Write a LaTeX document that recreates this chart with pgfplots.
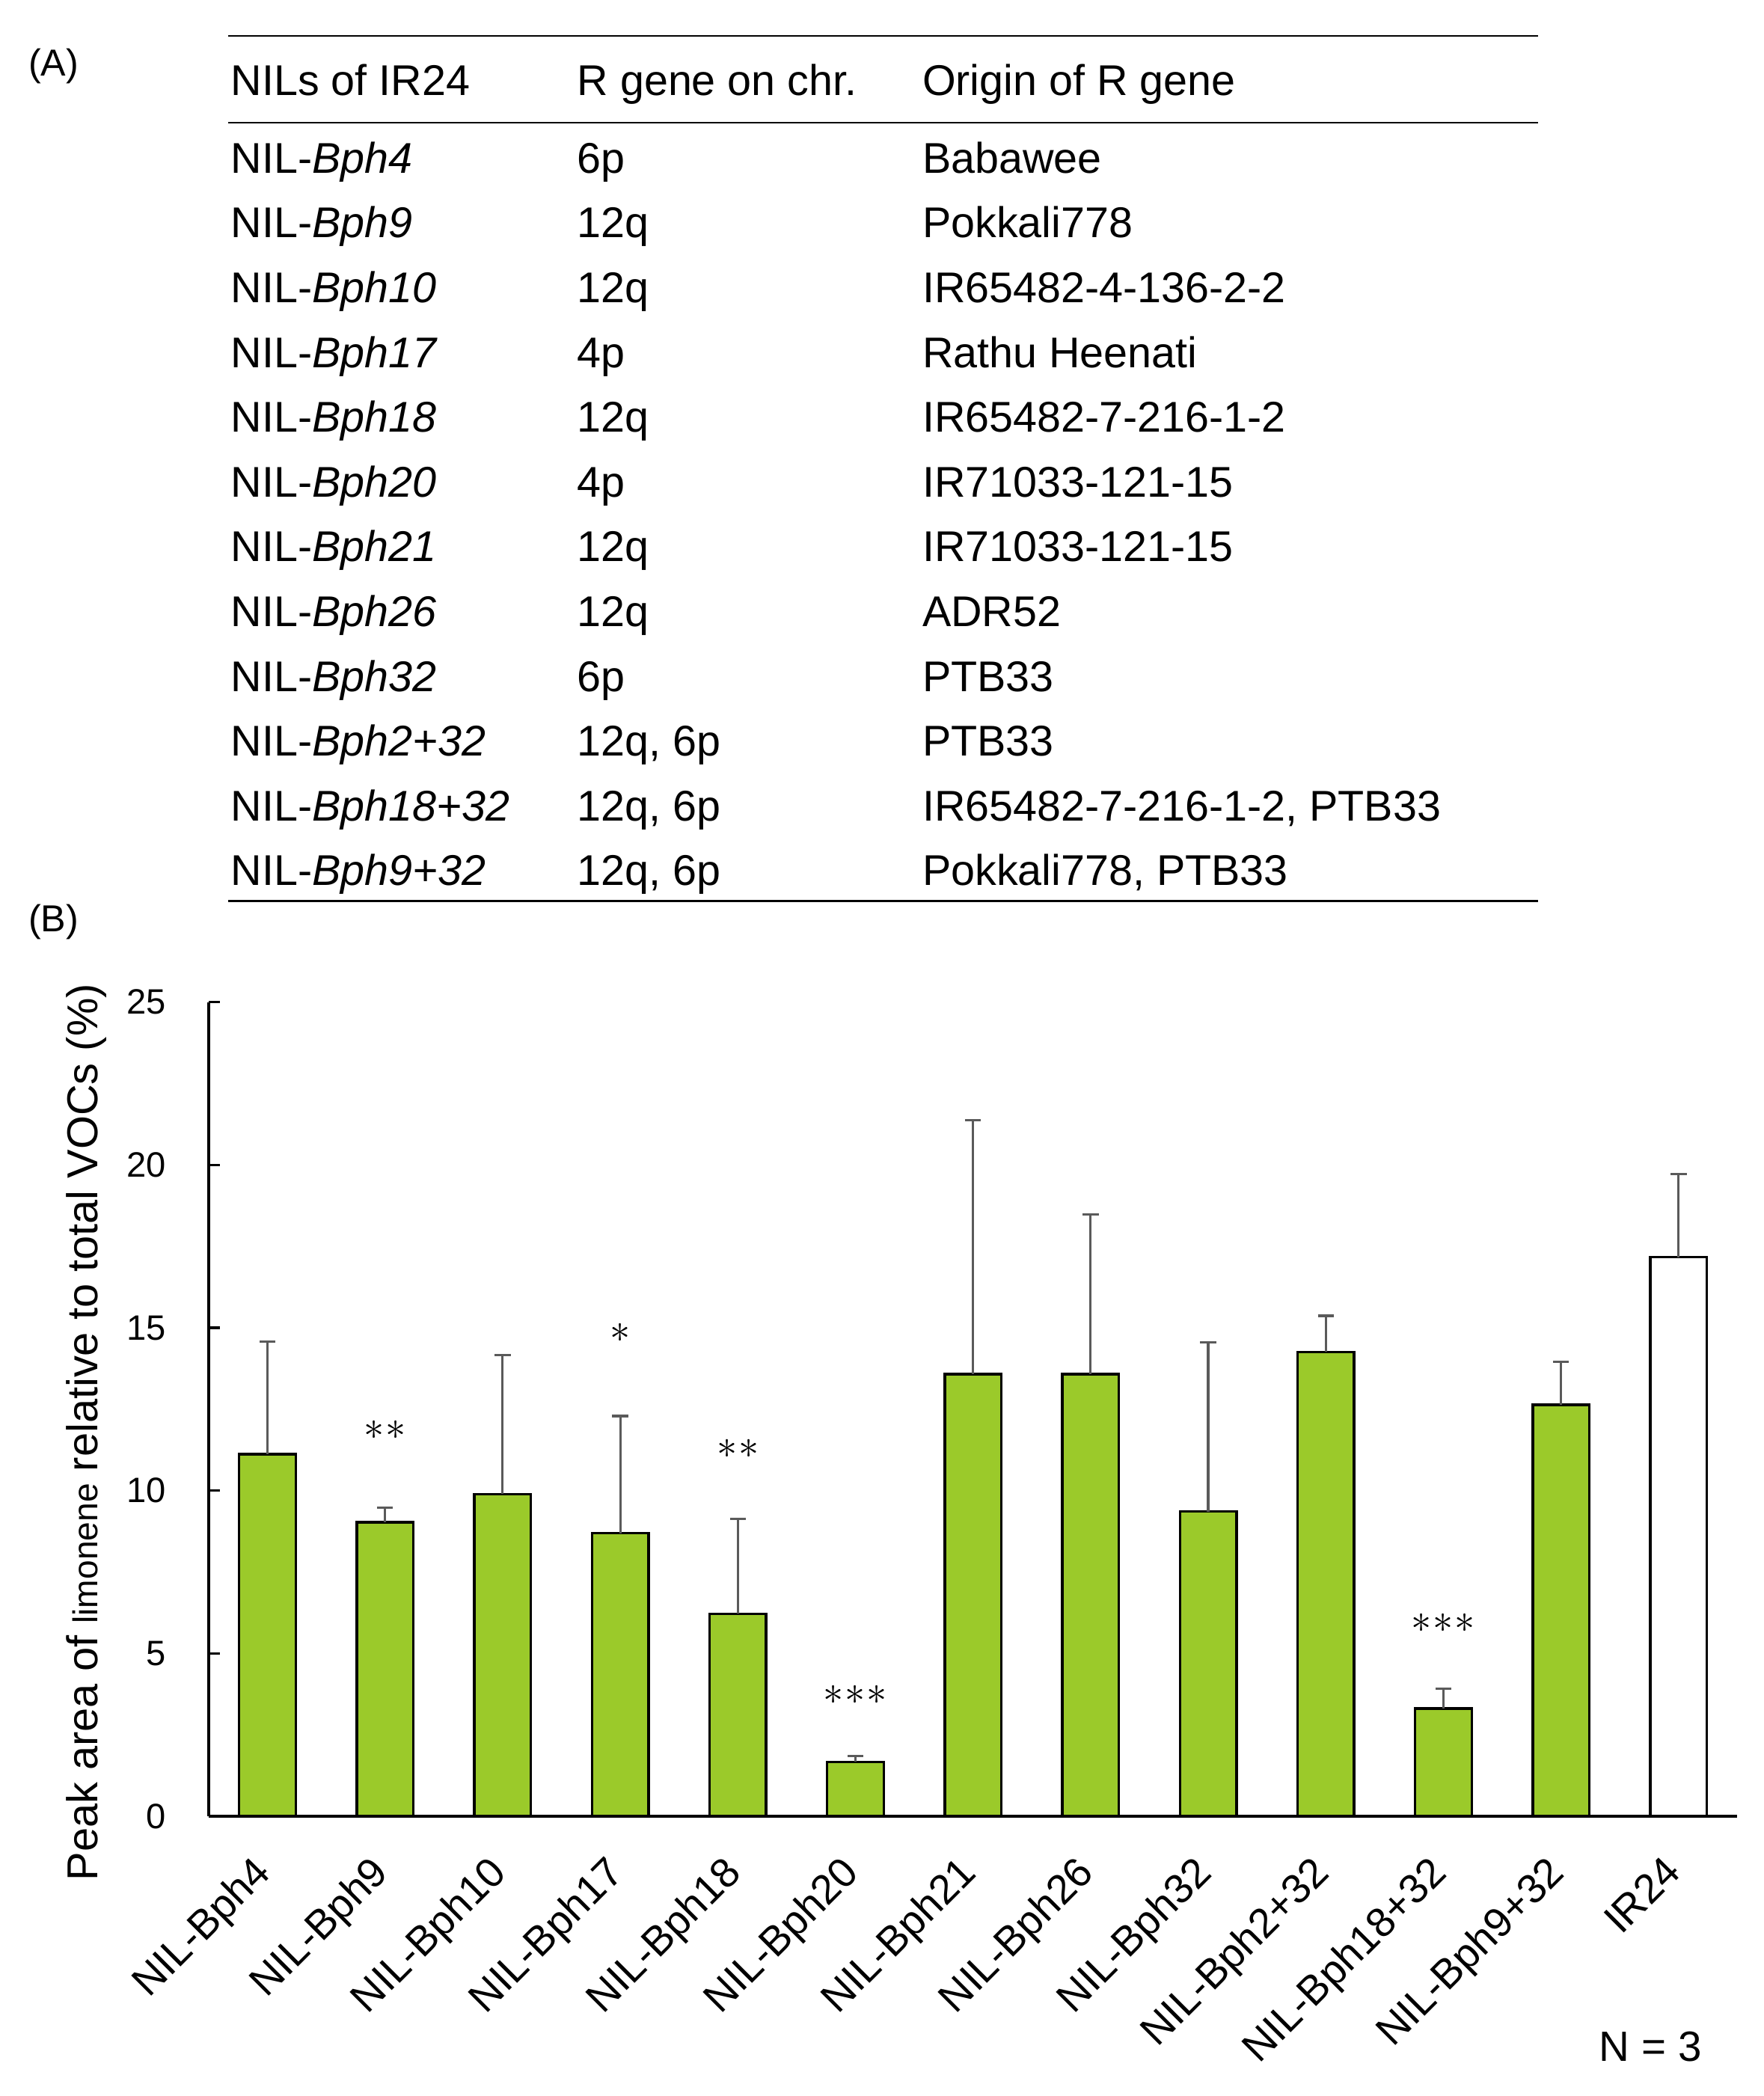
\documentclass[border=0pt]{standalone}
\usepackage{fontspec}
\setmainfont{Liberation Sans}
\usepackage{pgfplots}
\usepackage{pgfplotstable}
\pgfplotsset{compat=1.18}

\definecolor{bargreen}{RGB}{155,202,42}
\definecolor{errgray}{RGB}{90,90,90}

% mean and upper error (percent)
\pgfplotstableread{
x y err
0 11.12 3.46
1 9.03 0.44
2 9.89 4.28
3 8.69 3.60
4 6.22 2.91
5 1.67 0.18
6 13.58 7.79
7 13.58 4.91
8 9.36 5.20
9 14.26 1.11
10 3.31 0.60
11 12.64 1.32
}\nils
\pgfplotstableread{
x y err
12 17.17 2.56
}\control
\pgfplotstableread{
x y lab
1 11.85 2
3 14.85 1
4 11.28 2
5 3.72 3
10 5.94 3
}\stars

\newcommand{\stx}[1]{\ifcase#1\or${\ast}$\or${\ast}\mkern0.6mu{\ast}$\or${\ast}\mkern0.6mu{\ast}\mkern0.6mu{\ast}$\fi}

\begin{document}
\begin{tikzpicture}
\useasboundingbox (0,0) rectangle (263.8mm,-313.6mm);

\begin{scope}[x=0.2mm,y=-0.2mm]
  \node[anchor=base west,inner sep=0,font=\fontsize{16}{18}\selectfont] at (21,57) {(A)};
  \node[anchor=base west,inner sep=0,font=\fontsize{16}{18}\selectfont] at (21,697) {(B)};
  \draw[line width=0.8pt] (170.8,26.8) -- (1150.7,26.8);
  \draw[line width=0.8pt] (170.8,91.9) -- (1150.7,91.9);
  \draw[line width=0.8pt] (170.8,674) -- (1150.7,674);
  \begin{scope}[every node/.style={anchor=base west,inner sep=0,font=\fontsize{18.3}{20}\selectfont}]
    \node at (172.5,71.6) {NILs of IR24};
    \node at (431.5,71.6) {R gene on chr.};
    \node at (689.7,71.6) {Origin of R gene};
    \foreach \i/\a/\b/\c in {
      0/4/6p/Babawee,
      1/9/12q/Pokkali778,
      2/10/12q/IR65482-4-136-2-2,
      3/17/4p/Rathu Heenati,
      4/18/12q/IR65482-7-216-1-2,
      5/20/4p/IR71033-121-15,
      6/21/12q/IR71033-121-15,
      7/26/12q/ADR52,
      8/32/6p/PTB33,
      9/2+32/{12q, 6p}/PTB33,
      10/18+32/{12q, 6p}/{IR65482-7-216-1-2, PTB33},
      11/9+32/{12q, 6p}/{Pokkali778, PTB33}} {
      \node at (172.5,129.5+48.46*\i) {NIL-\textit{Bph\a}};
      \node at (431.5,129.5+48.46*\i) {\b};
      \node at (689.7,129.5+48.46*\i) {\c};
    }
  \end{scope}
  \node[rotate=90,anchor=base,inner sep=0,font=\fontsize{18.4}{20}\selectfont] at (72.8,1071.5)
    {Peak area of {\fontsize{14.7}{16}\selectfont limonene} relative to total VOCs (\%)};
  \node[anchor=base west,inner sep=0,font=\fontsize{18}{20}\selectfont] at (1196,1542) {N = 3};
\end{scope}

\begin{axis}[
    at={(31.22mm,-271.74mm)}, anchor=south west,
    scale only axis,
    width=228.7mm, height=121.8mm,
    xmin=-0.5, xmax=12.5, ymin=0, ymax=25,
    axis x line*=bottom, axis y line*=left,
    axis line style={line width=1pt},
    xtick={0,...,12},
    xticklabels={NIL-Bph4,NIL-Bph9,NIL-Bph10,NIL-Bph17,NIL-Bph18,NIL-Bph20,NIL-Bph21,NIL-Bph26,NIL-Bph32,NIL-Bph2+32,NIL-Bph18+32,NIL-Bph9+32,IR24},
    xtick style={draw=none},
    xticklabel style={font=\fontsize{17.6}{19}\selectfont, inner sep=0pt, xshift=-2.4mm, yshift=-5.5mm, rotate=45, anchor=north east},
    ytick={0,5,...,25},
    tick align=inside,
    major tick length=1.7mm,
    ytick style={line width=1pt, black},
    yticklabel style={anchor=east, inner sep=0pt, xshift=-6.36mm, font=\fontsize{15}{17}\selectfont},
    /pgf/number format/assume math mode=true,
    clip=false,
]
\addplot[ybar, bar shift=0pt, bar width=8.46mm, fill=bargreen, draw=black, line width=1.1pt,
    error bars/.cd, y dir=plus, y explicit,
    error bar style={errgray, line width=1pt},
    error mark options={rotate=90, errgray, line width=1pt, mark size=1.2mm}]
    table[x=x, y=y, y error=err] {\nils};
\addplot[ybar, bar shift=0pt, bar width=8.46mm, fill=white, draw=black, line width=1.1pt,
    error bars/.cd, y dir=plus, y explicit,
    error bar style={errgray, line width=1pt},
    error mark options={rotate=90, errgray, line width=1pt, mark size=1.2mm}]
    table[x=x, y=y, y error=err] {\control};
\addplot[draw=none, mark=none, nodes near coords={\stx{\pgfplotspointmeta}},
    point meta=explicit symbolic,
    every node near coord/.append style={anchor=center, inner sep=0pt, font=\fontsize{16}{18}\selectfont}]
    table[x=x, y=y, meta=lab] {\stars};
\end{axis}
\end{tikzpicture}
\end{document}
